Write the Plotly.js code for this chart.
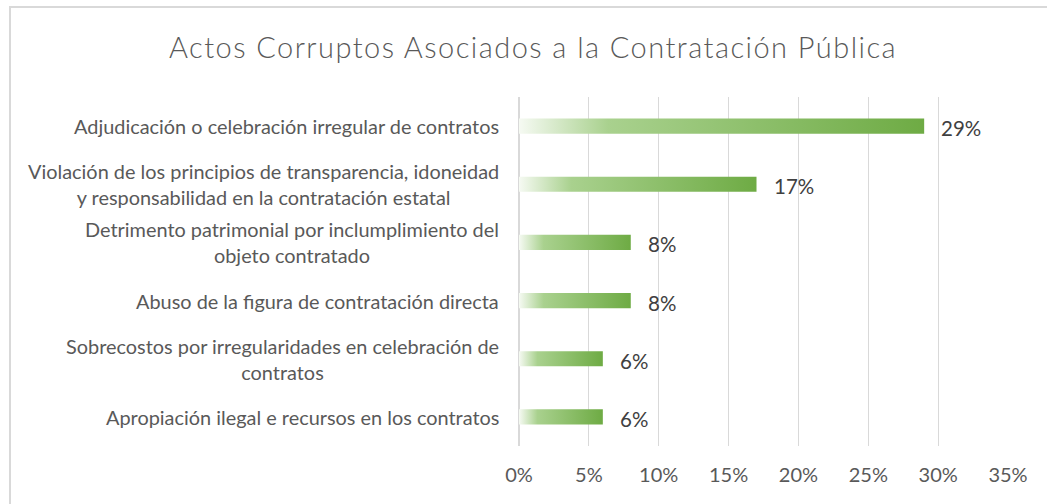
<!DOCTYPE html>
<html>
<head>
<meta charset="utf-8">
<script src="https://cdn.plot.ly/plotly-3.0.1.min.js"></script>
<style>
  html, body { margin: 0; padding: 0; background: #fff; }
  #wrap { position: relative; width: 1047px; height: 504px; overflow: hidden; }
  #chart { position: absolute; left: 0; top: 0; width: 1047px; height: 504px; }
  #frame { position: absolute; left: 9px; top: 6px; width: 1100px; height: 600px;
           border-left: 2px solid #d9d9d9; border-top: 2px solid #d9d9d9; pointer-events: none; }
</style>
</head>
<body>
<div id="wrap">
  <div id="chart"></div>
  <div id="frame"></div>
</div>
<script>
const chartTitle = "Actos Corruptos Asociados a la Contratación Pública";
const categories = [
  "Adjudicación o celebración irregular de contratos",
  "Violación de los principios de transparencia, idoneidad<br>y responsabilidad en la contratación estatal",
  "Detrimento patrimonial por inclumplimiento del<br>objeto contratado",
  "Abuso de la figura de contratación directa",
  "Sobrecostos por irregularidades en celebración de<br>contratos",
  "Apropiación ilegal e recursos en los contratos"
];
const values = [29, 17, 8, 8, 6, 6];
const valueLabels = ["29%", "17%", "8%", "8%", "6%", "6%"];
const tickVals = [0, 5, 10, 15, 20, 25, 30, 35];
const tickText = ["0%", "5%", "10%", "15%", "20%", "25%", "30%", "35%"];

const FONT = "Lato, 'Open Sans', sans-serif";

const trace = {
  type: "bar",
  orientation: "h",
  x: values,
  y: categories,
  marker: { color: "#70ad47", line: { width: 0 } },
  hoverinfo: "skip"
};

const annotations = [];
categories.forEach((c, i) => {
  annotations.push({
    xref: "x", yref: "y", x: 0, y: c,
    xanchor: "right", yanchor: "middle", align: "center",
    xshift: -18, showarrow: false, text: c,
    font: { family: FONT, size: 19.9, color: "#595959" }
  });
  annotations.push({
    xref: "x", yref: "y", x: values[i], y: c,
    xanchor: "left", yanchor: "middle", xshift: 15, yshift: -2,
    showarrow: false, text: valueLabels[i],
    font: { family: FONT, size: 20.5, color: "#404040" }
  });
});

const layout = {
  width: 1047, height: 504,
  margin: { l: 519, r: 39, t: 97, b: 58 },
  paper_bgcolor: "rgba(0,0,0,0)",
  plot_bgcolor: "rgba(0,0,0,0)",
  title: {
    text: chartTitle,
    font: { family: FONT, size: 29, color: "#595959", weight: 300 },
    x: 533 / 1047, xref: "container", xanchor: "center",
    y: 1 - 48 / 504, yref: "container", yanchor: "middle"
  },
  showlegend: false,
  bargap: 0.74,
  xaxis: {
    range: [0, 35], tickvals: tickVals, ticktext: tickText,
    showgrid: true, gridcolor: "#d9d9d9", gridwidth: 1,
    zeroline: true, zerolinecolor: "#d9d9d9", zerolinewidth: 2,
    showline: false, ticks: "", ticklabelstandoff: 15,
    tickfont: { family: FONT, size: 20, color: "#595959" },
    fixedrange: true
  },
  yaxis: {
    autorange: "reversed", showticklabels: false, showgrid: false,
    zeroline: false, showline: false, ticks: "", fixedrange: true
  },
  annotations: annotations
};

function applyGradient(gd) {
  const svg = gd.querySelector("svg.main-svg");
  if (!svg) return;
  const ns = "http://www.w3.org/2000/svg";
  let defs = svg.querySelector("defs");
  if (!defs) { defs = document.createElementNS(ns, "defs"); svg.insertBefore(defs, svg.firstChild); }
  if (!svg.querySelector("#barGrad")) {
    const g = document.createElementNS(ns, "linearGradient");
    g.setAttribute("id", "barGrad");
    g.setAttribute("x1", "0"); g.setAttribute("y1", "0");
    g.setAttribute("x2", "1"); g.setAttribute("y2", "0");
    [["0", "#f6faf3"], ["0.22", "#a9d18e"], ["1", "#6eab44"]].forEach(s => {
      const st = document.createElementNS(ns, "stop");
      st.setAttribute("offset", s[0]);
      st.setAttribute("stop-color", s[1]);
      g.appendChild(st);
    });
    defs.appendChild(g);
  }
  gd.querySelectorAll(".barlayer .point path").forEach(p => {
    p.style.fill = "url(#barGrad)";
  });
  const t = gd.querySelector(".gtitle");
  if (t) t.style.letterSpacing = "1.45px";
}

const gd = document.getElementById("chart");
Plotly.newPlot(gd, [trace], layout, { displayModeBar: false, staticPlot: true })
  .then(() => applyGradient(gd));
</script>
</body>
</html>
